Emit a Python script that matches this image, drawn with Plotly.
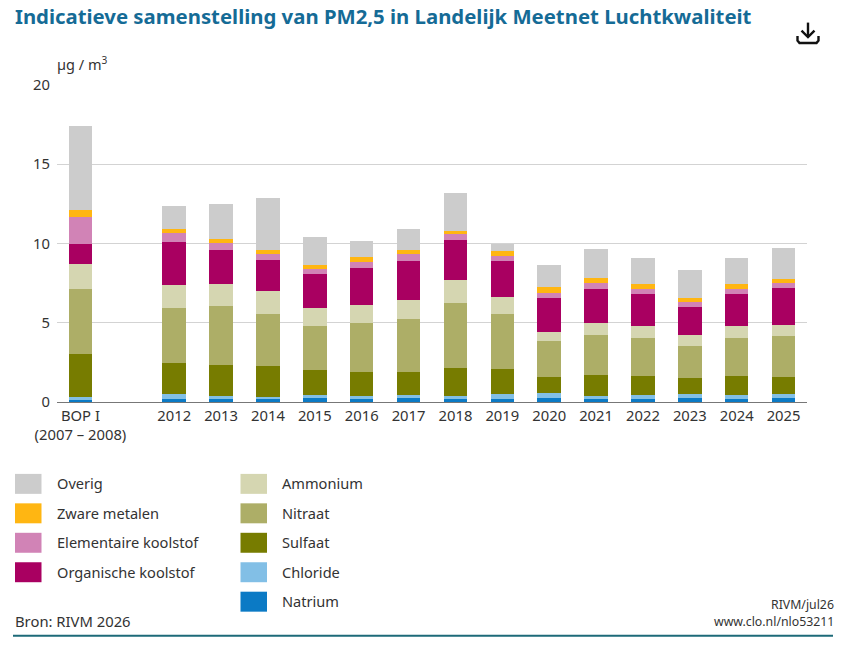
import plotly.graph_objects as go

categories = ["BOP I<br>(2007 – 2008)", " ", "2012", "2013", "2014", "2015", "2016", "2017",
              "2018", "2019", "2020", "2021", "2022", "2023", "2024", "2025"]
tick_labels = ["BOP I<br>(2007 – 2008)", "2012", "2013", "2014", "2015", "2016", "2017",
               "2018", "2019", "2020", "2021", "2022", "2023", "2024", "2025"]

natrium = [.12, None, .2, .2, .2, .28, .21, .27, .19, .21, .25, .19, .21, .27, .21, .25]
chloride = [.18, None, .3, .2, .12, .18, .17, .17, .17, .31, .3, .19, .21, .23, .21, .23]
sulfaat = [2.7, None, 1.97, 1.93, 1.94, 1.54, 1.53, 1.47, 1.78, 1.56, 1.04, 1.3, 1.19, 1.01, 1.19, 1.11]
nitraat = [4.1, None, 3.43, 3.71, 3.29, 2.78, 3.08, 3.33, 4.09, 3.48, 2.25, 2.55, 2.42, 2.03, 2.42, 2.58]
ammonium = [1.58, None, 1.46, 1.38, 1.47, 1.17, 1.11, 1.18, 1.46, 1.06, .58, .76, .79, .67, .79, .71]
organisch = [1.32, None, 2.74, 2.2, 1.91, 2.14, 2.37, 2.45, 2.5, 2.25, 2.12, 2.12, 2.01, 1.81, 2.01, 2.31]
elementair = [1.65, None, .57, .44, .4, .3, .38, .44, .38, .35, .34, .37, .32, .27, .32, .29]
metalen = [.45, None, .27, .25, .25, .27, .27, .25, .25, .3, .37, .32, .29, .25, .29, .26]
overig = [5.3, None, 1.41, 2.19, 3.27, 1.78, 1.05, 1.38, 2.38, .46, 1.37, 1.86, 1.62, 1.8, 1.62, 1.97]

series = [
    ("Natrium", natrium, "#0b7ac5"),
    ("Chloride", chloride, "#82bfe6"),
    ("Sulfaat", sulfaat, "#777c00"),
    ("Nitraat", nitraat, "#adae67"),
    ("Ammonium", ammonium, "#d5d6b1"),
    ("Organische koolstof", organisch, "#a90061"),
    ("Elementaire koolstof", elementair, "#d183b6"),
    ("Zware metalen", metalen, "#ffb612"),
    ("Overig", overig, "#cccccc"),
]

W, H = 844, 649
L, R, T, B = 57, 807, 84.5, 402
TEXT = "#333333"
FONT = "Noto Sans"


def px(x):
    return (x - L) / (R - L)


def py(y):
    return (B - y) / (B - T)


fig = go.Figure()
for name, vals, col in series:
    fig.add_trace(go.Bar(x=categories, y=vals, name=name, marker=dict(color=col, line=dict(width=0))))

shapes = []
annotations = []


def text(x, y, s, size=14.6, anchor="left", color=TEXT):
    annotations.append(dict(x=px(x), y=py(y), xref="paper", yref="paper", text=s, showarrow=False,
                            xanchor=anchor, yanchor="middle",
                            font=dict(family=FONT, size=size, color=color)))


def swatch(x0, yc, col):
    shapes.append(dict(type="rect", xref="paper", yref="paper", x0=px(x0), x1=px(x0 + 26.5),
                       y0=py(yc - 10), y1=py(yc + 10), fillcolor=col, line=dict(width=0)))


col1 = ["Overig", "Zware metalen", "Elementaire koolstof", "Organische koolstof"]
col2 = ["Ammonium", "Nitraat", "Sulfaat", "Chloride", "Natrium"]
colors = {n: c for n, _, c in series}
for i, n in enumerate(col1):
    yc = 484 + i * 29.5
    swatch(15, yc, colors[n])
    text(54.5, yc - 0.5, n)
for i, n in enumerate(col2):
    yc = 484 + i * 29.5
    swatch(240.5, yc, colors[n])
    text(279.5, yc - 0.5, n)

text(54.5, 63, "µg / m<sup>3</sup>", 14.5)
text(12.5, 621.5, "Bron: RIVM 2026", 14.8)
text(836, 605, "RIVM/jul26", 12.3, "right")
text(836, 622, "www.clo.nl/nlo53211", 12.3, "right")

# bottom rule
shapes.append(dict(type="line", xref="paper", yref="paper", x0=px(13), x1=px(833), y0=py(636), y1=py(636),
                   line=dict(color="#1d6a78", width=2)))


# download icon
def ipath(points):
    return "M " + " L ".join(f"{px(a):.5f} {py(b):.5f}" for a, b in points)


for pts in ([(808, 22), (808, 36)], [(801.5, 30), (808, 36.5), (814.5, 30)],
            [(797.5, 35.5), (797.5, 40), (799.5, 42.5), (816.5, 42.5), (818.5, 40), (818.5, 35.5)]):
    shapes.append(dict(type="path", xref="paper", yref="paper", path=ipath(pts),
                       line=dict(color="#111111", width=2.4)))

fig.update_layout(
    width=W, height=H, barmode="stack", bargap=0.5, showlegend=False,
    paper_bgcolor="white", plot_bgcolor="white",
    margin=dict(l=L, r=W - R, t=T, b=H - B, pad=0),
    font=dict(family=FONT, size=14.8, color=TEXT),
    title=dict(text="<b>Indicatieve samenstelling van PM2,5 in Landelijk Meetnet Luchtkwaliteit</b>",
               x=15 / W, xref="container", xanchor="left", y=1 - 17 / H, yref="container", yanchor="middle",
               font=dict(family=FONT, size=20.33, color="#156b96")),
    xaxis=dict(type="category", categoryorder="array", categoryarray=categories, range=[-0.5, 15.5],
               tickmode="array", tickvals=tick_labels, ticktext=tick_labels, tickangle=0,
               showgrid=False, showline=True, linecolor="#777777", linewidth=1.2, ticks="", fixedrange=True),
    yaxis=dict(range=[0, 20], tickvals=[0, 5, 10, 15, 20], showgrid=True, gridcolor="#d3d3d3", gridwidth=1,
               zeroline=False, showline=False, ticks="outside", ticklen=3, tickcolor="rgba(0,0,0,0)", fixedrange=True),
    shapes=shapes, annotations=annotations,
)

fig.write_html("out.html", config={"displayModeBar": False},
               post_script="document.body.style.margin='0';document.documentElement.style.overflow='hidden';")
